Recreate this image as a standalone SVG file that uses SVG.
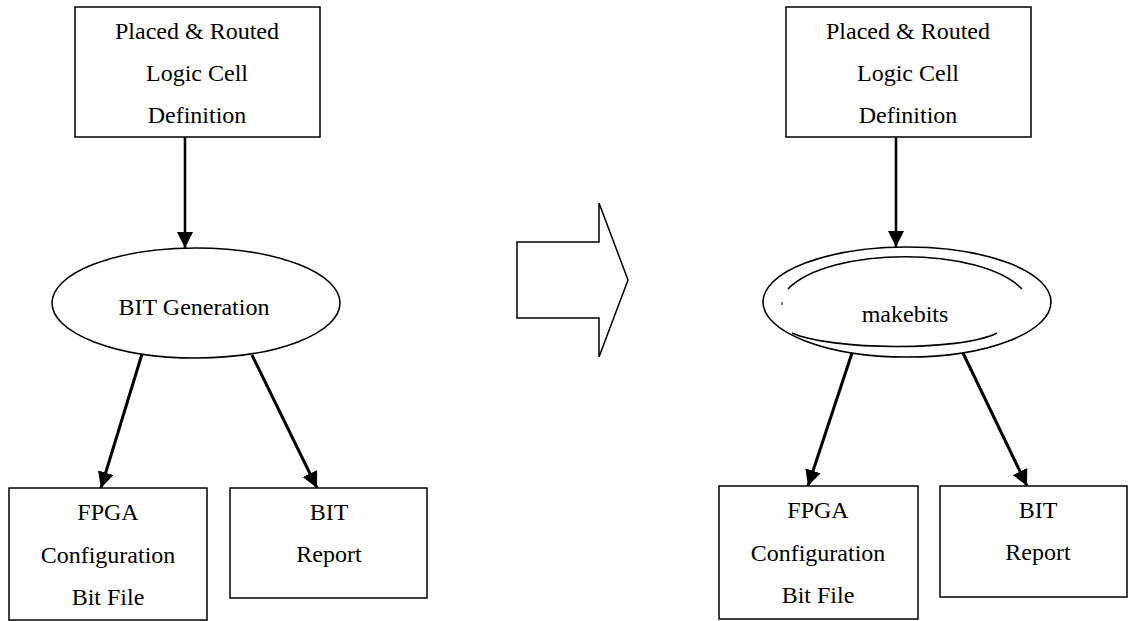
<svg xmlns="http://www.w3.org/2000/svg" width="1129" height="621" viewBox="0 0 1129 621">
<defs>
<style>
.box{fill:#fff;stroke:#000;stroke-width:1.5}
.ell{fill:#fff;stroke:#000;stroke-width:1.6}
.arc{fill:none;stroke:#000;stroke-width:1.6}
.t{font-family:"Liberation Serif","Times New Roman",serif;font-size:24px;fill:#000;text-anchor:middle}
.c1{stroke:#000;stroke-width:2.6;fill:none}
.c2{stroke:#000;stroke-width:3;fill:none}
</style>
<marker id="ah" viewBox="0 0 10 10" refX="10" refY="5" markerUnits="userSpaceOnUse" markerWidth="16" markerHeight="16" orient="auto">
<path d="M0,0 L10,5 L0,10 z" fill="#000"/>
</marker>
</defs>
<rect width="1129" height="621" fill="#fff"/>

<g id="connectors">
<line class="c1" x1="185" y1="137" x2="185" y2="248" marker-end="url(#ah)"/>
<line class="c2" x1="142" y1="354" x2="101" y2="488" marker-end="url(#ah)"/>
<line class="c2" x1="252" y1="355" x2="317" y2="488" marker-end="url(#ah)"/>
<line class="c1" x1="896" y1="137" x2="896" y2="247" marker-end="url(#ah)"/>
<line class="c2" x1="852" y1="353" x2="808" y2="486" marker-end="url(#ah)"/>
<line class="c2" x1="963" y1="353" x2="1027" y2="486" marker-end="url(#ah)"/>
</g>

<g id="left-input">
<rect class="box" x="75" y="7" width="245" height="130"/>
<text class="t" x="197" y="39">Placed &amp; Routed</text>
<text class="t" x="197" y="81">Logic Cell</text>
<text class="t" x="197" y="123">Definition</text>
</g>

<g id="left-process">
<ellipse class="ell" cx="196" cy="303" rx="144" ry="55"/>
<text class="t" x="194" y="315">BIT Generation</text>
</g>

<g id="left-bitfile">
<rect class="box" x="9" y="488" width="198" height="132"/>
<text class="t" x="108" y="520">FPGA</text>
<text class="t" x="108" y="563">Configuration</text>
<text class="t" x="108" y="605">Bit File</text>
</g>

<g id="left-report">
<rect class="box" x="230" y="488" width="197" height="110"/>
<text class="t" x="329" y="520">BIT</text>
<text class="t" x="329" y="562">Report</text>
</g>

<g id="transform-arrow">
<path d="M517,242 L599,242 L599,203 L628,280 L599,357 L599,318 L517,318 Z" fill="#fff" stroke="#000" stroke-width="1.5" stroke-linejoin="miter"/>
</g>

<g id="right-input">
<rect class="box" x="786" y="7" width="245" height="130"/>
<text class="t" x="908" y="39">Placed &amp; Routed</text>
<text class="t" x="908" y="81">Logic Cell</text>
<text class="t" x="908" y="123">Definition</text>
</g>

<g id="right-process">
<ellipse class="ell" cx="907" cy="302" rx="144" ry="55"/>
<path class="arc" d="M788,289 C830,246 980,246 1022,289"/>
<path class="arc" d="M792,333 C830,350 960,352 997,333"/>
<line x1="782" y1="302" x2="782" y2="305" stroke="#000" stroke-width="1"/>
<text class="t" x="905" y="322">makebits</text>
</g>

<g id="right-bitfile">
<rect class="box" x="719" y="486" width="199" height="133"/>
<text class="t" x="818" y="518">FPGA</text>
<text class="t" x="818" y="561">Configuration</text>
<text class="t" x="818" y="603">Bit File</text>
</g>

<g id="right-report">
<rect class="box" x="940" y="486" width="187" height="111"/>
<text class="t" x="1038" y="518">BIT</text>
<text class="t" x="1038" y="560">Report</text>
</g>
</svg>
